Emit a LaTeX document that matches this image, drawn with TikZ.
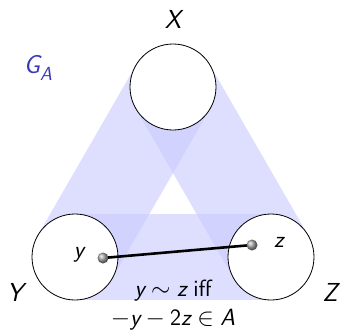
\documentclass[tikz,border=0pt]{standalone}
\pgfdeclarelayer{bg}
\pgfdeclarelayer{fg}
\pgfsetlayers{bg,main,fg}
\definecolor{gacol}{rgb}{0.22,0.22,0.72}
\newcommand{\sv}[1]{{\sffamily\itshape #1}}
\newcommand{\rsp}{\hspace{0.28em}}
\newcommand{\bsp}{\hspace{0.22em}}
\tikzset{
  band/.style={draw=blue!20, line width=86pt, line cap=round, draw opacity=0.65},
  setcirc/.style={circle, draw=black, line width=0.8pt, fill=white, minimum size=86pt, inner sep=0pt},
  elem/.style={circle, ball color=gray!70, inner sep=0pt, minimum size=11pt},
  bigtxt/.style={font=\fontsize{26}{30}\selectfont\sffamily\itshape},
  smalltxt/.style={font=\fontsize{23.5}{28}\selectfont\sffamily},
}
\begin{document}
\begin{tikzpicture}[x=1pt,y=-1pt]
\useasboundingbox (0,0) rectangle (341,335);
% set circles
\node[setcirc] (X) at (173,87) {};
\node[setcirc] (Y) at (75,257) {};
\node[setcirc] (Z) at (271,257) {};
% bands
\begin{pgfonlayer}{bg}
  \draw[band] (X.center) -- (Y.center);
  \draw[band] (X.center) -- (Z.center);
  \draw[band] (Y.center) -- (Z.center);
\end{pgfonlayer}
% elements
\begin{pgfonlayer}{fg}
  \node[elem] (ydot) at (103,258) {};
  \node[elem] (zdot) at (252,245) {};
\end{pgfonlayer}
\draw[line width=2.6pt] (ydot.center) -- (zdot.center);
% labels
\node[smalltxt] (ylab) at (79,255) {\sv{y}};
\node[smalltxt] (zlab) at (279,242) {\sv{z}};
\node[bigtxt] (Xlab) at (173,19) {X};
\node[bigtxt] (Ylab) at (15,292) {Y};
\node[bigtxt] (Zlab) at (330,292) {Z};
\node[bigtxt, text=gacol] (GA) at (38,68) {G\raisebox{-0.25em}{\fontsize{19}{20}\selectfont A}};
\node[smalltxt] (rel1) at (173,291) {\sv{y}\rsp$\sim$\rsp\sv{z}\rsp iff};
\node[smalltxt] (rel2) at (173,320) {$-$\sv{y}\bsp$-$\bsp 2\sv{z}\rsp$\in$\rsp\sv{A}};
\end{tikzpicture}
\end{document}
